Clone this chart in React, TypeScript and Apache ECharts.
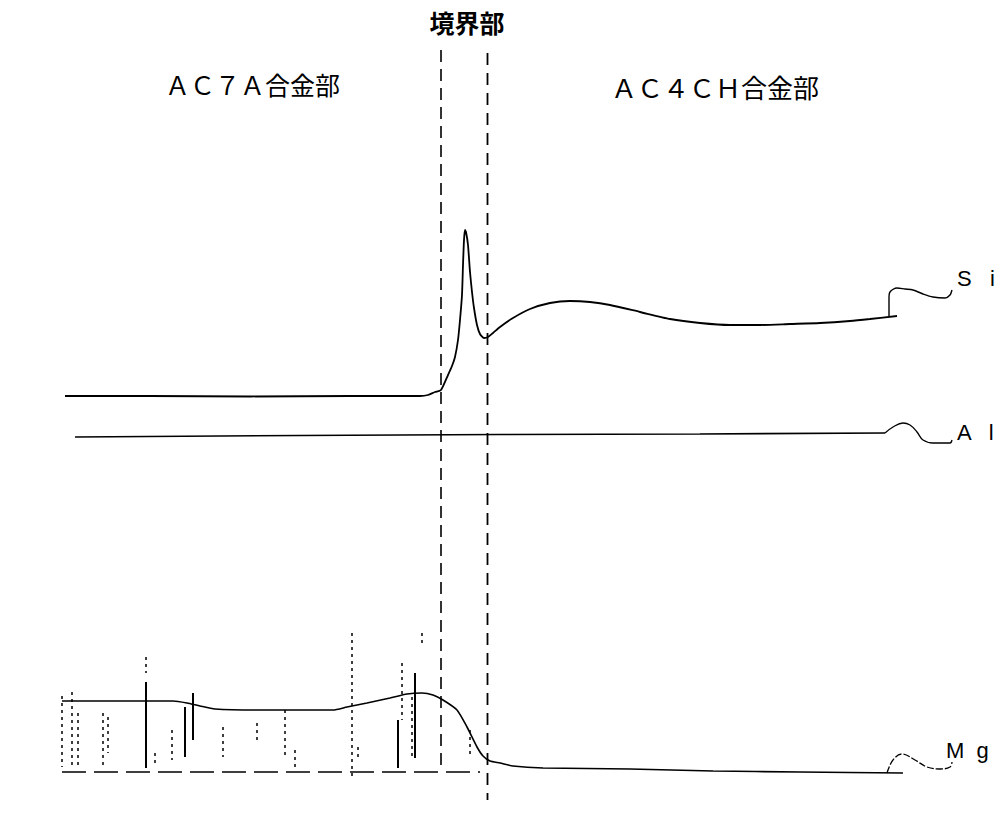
import React, { useEffect, useRef } from "react";
import * as echarts from "echarts";

// Position (x, arbitrary units) vs. X-ray intensity (arbitrary units)
const siProfile: [number, number][] = [
  [6.5, 42.2], [15.0, 42.2], [25.0, 42.15], [35.0, 42.2], [42.0, 42.2], [42.8, 42.3],
  [43.5, 42.6], [44.1, 42.8], [44.8, 44.3], [45.2, 45.2], [45.5, 46.1], [45.8, 47.8],
  [46.0, 49.8], [46.2, 52.3], [46.3, 55.3], [46.4, 57.8], [46.5, 58.8], [46.6, 58.6],
  [46.8, 57.3], [47.0, 54.6], [47.2, 52.6], [47.4, 51.0], [47.7, 49.3], [48.0, 48.4],
  [48.4, 48.0], [48.8, 48.1], [49.3, 48.5], [50.0, 49.1], [51.3, 50.0], [53.0, 50.9],
  [55.0, 51.5], [57.0, 51.7], [59.0, 51.6], [61.0, 51.3], [64.0, 50.6], [67.0, 49.9],
  [70.0, 49.5], [73.0, 49.3], [76.0, 49.3], [79.0, 49.4], [82.0, 49.5], [85.0, 49.7],
  [87.0, 49.9], [89.7, 50.2],
];
const siLeader: [number, number][] = [
  [88.9, 50.2], [88.9, 52.0], [89.0, 52.6], [89.7, 53.0], [90.5, 52.9], [91.3, 52.8],
  [92.3, 52.4], [93.3, 52.1], [94.5, 52.0], [95.0, 52.3], [95.2, 52.8],
];
const alProfile: [number, number][] = [
  [7.5, 38.1], [30.0, 38.25], [50.0, 38.35], [70.0, 38.4], [88.5, 38.5],
];
const alLeader: [number, number][] = [
  [88.5, 38.5], [89.3, 39.1], [90.3, 39.5], [91.0, 39.3], [91.7, 38.6], [92.3, 37.8],
  [93.3, 37.5], [95.0, 37.5], [95.2, 37.8],
];
const mgProfile: [number, number][] = [
  [6.2, 11.7], [17.3, 11.7], [18.7, 11.5], [20.0, 11.2], [21.5, 10.9], [26.0, 10.8],
  [33.3, 10.8], [34.7, 11.1], [36.7, 11.5], [39.0, 12.0], [40.7, 12.4], [42.2, 12.5],
  [43.3, 12.3], [44.3, 11.8], [45.7, 10.8], [46.7, 9.1], [47.7, 7.1], [48.3, 6.2],
  [49.0, 5.7], [50.0, 5.5], [51.3, 5.2], [54.3, 5.0], [63.0, 4.9], [71.3, 4.7],
  [80.0, 4.6], [90.3, 4.5],
];
const mgLeader: [number, number][] = [
  [88.7, 4.5], [89.3, 5.8], [90.2, 6.4], [91.5, 5.8], [92.7, 5.1], [94.0, 4.9],
  [95.0, 5.1], [95.2, 5.6],
];
// Mg spikes in the AC7A region: [x, top, bottom]
const mgSpikesSolid: [number, number, number][] = [
  [14.6, 13.6, 5.0], [18.5, 11.1, 6.1], [19.3, 12.5, 7.8], [39.8, 9.8, 5.0], [41.5, 14.5, 6.0],
];
const mgSpikesDotted: [number, number, number][] = [
  [6.2, 12.2, 5.1], [7.2, 12.6, 5.1], [7.8, 10.5, 5.1], [10.3, 10.5, 5.1], [10.8, 10.1, 6.5],
  [14.6, 16.1, 14.5], [15.5, 6.5, 5.1], [17.2, 8.8, 5.8], [22.3, 9.1, 6.1], [25.7, 9.5, 7.5],
  [28.5, 10.8, 6.1], [29.5, 6.8, 5.1], [35.2, 18.5, 4.1], [35.8, 7.1, 5.8], [40.2, 15.5, 9.8],
  [41.2, 12.1, 5.8], [42.2, 18.5, 17.1], [47.0, 8.8, 6.1],
];
const mgBaseline: [number, number][] = [[6.2, 4.6], [48.0, 4.6]];
// Boundary zone limits
const boundaryLeft: [number, number][] = [[44.1, 76.8], [44.1, 4.8]];
const boundaryRight: [number, number][] = [[48.75, 76.5], [48.75, 1.8]];

const titleBoundary = "境界部";
const labelLeft = "ＡＣ７Ａ合金部";
const labelRight = "ＡＣ４ＣＨ合金部";
const elementLabels = ["S   i", "A   l", "M  g"];

export default function App() {
  const ref = useRef<HTMLDivElement>(null);
  useEffect(() => {
    if (!ref.current) return;
    const chart = echarts.init(ref.current, undefined, { renderer: "svg" });
    const line = (data: any, width = 1.6, type: any = "solid", smooth: any = 0.2) => ({
      type: "line",
      data,
      symbol: "none",
      smooth,
      silent: true,
      lineStyle: { color: "#000", width, type },
    });
    const series: any[] = [
      line(siProfile, 1.8),
      line(siLeader, 1.4, "solid", 0.3),
      line(alProfile, 1.6, "solid", false),
      line(alLeader, 1.3, "solid", 0.4),
      line(mgProfile, 1.6),
      line(mgLeader, 1.3, [7, 2], 0.4),
      line(mgBaseline, 1.5, [24, 8], false),
      line(boundaryLeft, 1.6, [12, 7], false),
      line(boundaryRight, 1.8, [12, 8], false),
      ...mgSpikesSolid.map((s) => line([[s[0], s[1]], [s[0], s[2]]], 2, "solid", false)),
      ...mgSpikesDotted.map((s) => line([[s[0], s[1]], [s[0], s[2]]], 1.5, [3, 4], false)),
    ];
    const fontCJK = "'Noto Sans CJK JP', sans-serif";
    const fontLatin = "'Liberation Sans', Arial, sans-serif";
    chart.setOption({
      animation: false,
      backgroundColor: "#fff",
      grid: { left: 0, right: 0, top: 0, bottom: 0 },
      xAxis: { type: "value", min: 0, max: 100.3, show: false },
      yAxis: { type: "value", min: 0, max: 81.8, show: false },
      series,
      graphic: [
        { type: "text", x: 467, y: 22, style: { text: titleBoundary, font: `bold 25px ${fontCJK}`, fill: "#000", align: "center", verticalAlign: "middle" } },
        { type: "text", x: 165, y: 84, style: { text: labelLeft, font: `25px ${fontCJK}`, fill: "#000", align: "left", verticalAlign: "middle" } },
        { type: "text", x: 611, y: 86, style: { text: labelRight, font: `26px ${fontCJK}`, fill: "#000", align: "left", verticalAlign: "middle" } },
        { type: "text", x: 957, y: 278, style: { text: elementLabels[0], font: `22px ${fontLatin}`, fill: "#000", align: "left", verticalAlign: "middle" } },
        { type: "text", x: 957, y: 432, style: { text: elementLabels[1], font: `22px ${fontLatin}`, fill: "#000", align: "left", verticalAlign: "middle" } },
        { type: "text", x: 946, y: 750, style: { text: elementLabels[2], font: `22px ${fontLatin}`, fill: "#000", align: "left", verticalAlign: "middle" } },
      ],
    });
    return () => chart.dispose();
  }, []);
  return (
    <div
      ref={ref}
      style={{ position: "absolute", left: 0, top: 0, width: 1003, height: 818, background: "#fff" }}
    />
  );
}
